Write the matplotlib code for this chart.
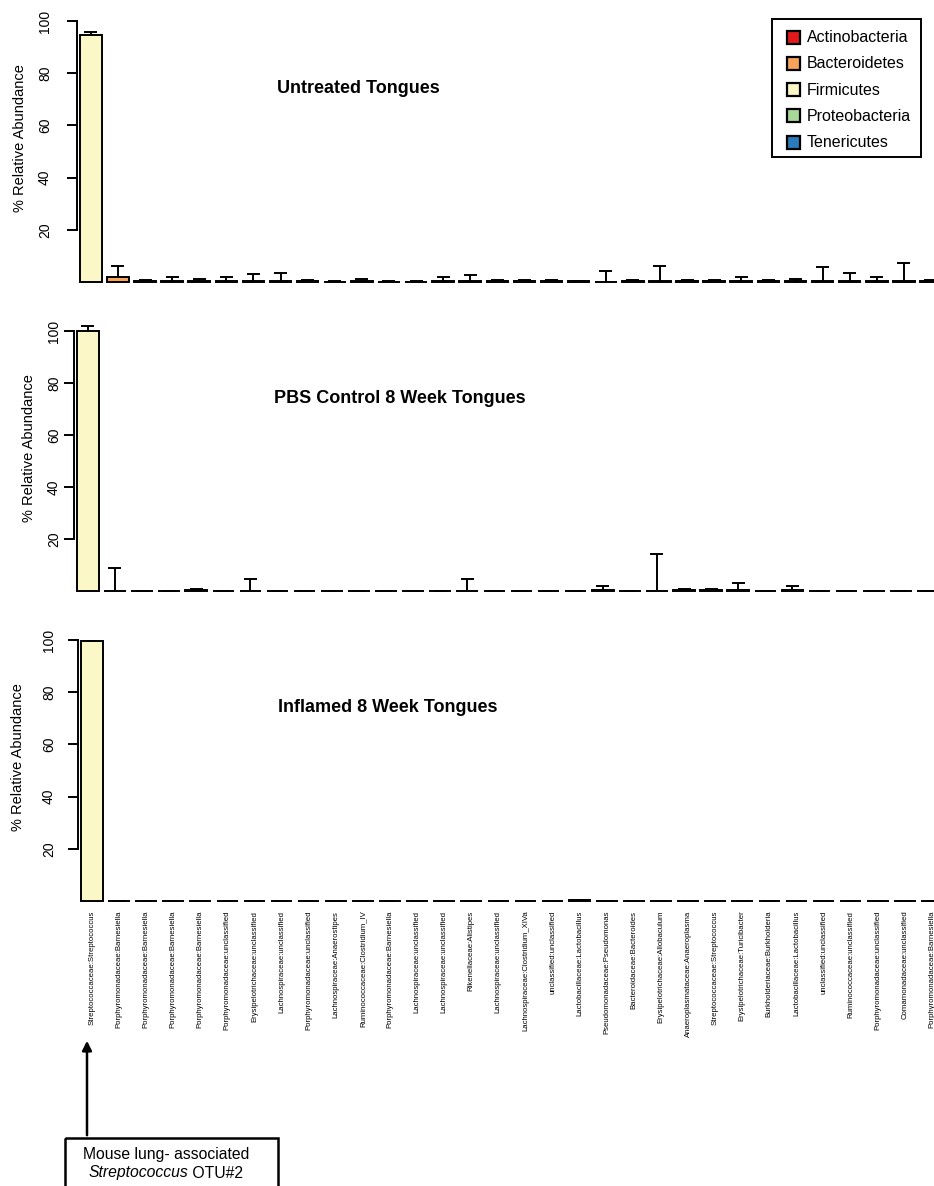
# -*- coding: utf-8 -*-
import numpy as np
import matplotlib
matplotlib.use('Agg')
import matplotlib.pyplot as plt
from matplotlib.patches import Rectangle

plt.rcParams['font.family'] = ['Liberation Sans', 'DejaVu Sans']

# OTU labels (family:genus)
otus = ['Streptococcaceae:Streptococcus', 'Porphyromonadaceae:Barnesiella',
        'Porphyromonadaceae:Barnesiella', 'Porphyromonadaceae:Barnesiella',
        'Porphyromonadaceae:Barnesiella', 'Porphyromonadaceae:unclassified',
        'Erysipelotrichaceae:unclassified', 'Lachnospiraceae:unclassified',
        'Porphyromonadaceae:unclassified', 'Lachnospiraceae:Anaerostipes',
        'Ruminococcaceae:Clostridium_IV', 'Porphyromonadaceae:Barnesiella',
        'Lachnospiraceae:unclassified', 'Lachnospiraceae:unclassified',
        'Rikenellaceae:Alistipes', 'Lachnospiraceae:unclassified',
        'Lachnospiraceae:Clostridium_XIVa', 'unclassified:unclassified',
        'Lactobacillaceae:Lactobacillus', 'Pseudomonadaceae:Pseudomonas',
        'Bacteroidaceae:Bacteroides', 'Erysipelotrichaceae:Allobaculum',
        'Anaeroplasmataceae:Anaeroplasma', 'Streptococcaceae:Streptococcus',
        'Erysipelotrichaceae:Turicibacter', 'Burkholderiaceae:Burkholderia',
        'Lactobacillaceae:Lactobacillus', 'unclassified:unclassified',
        'Ruminococcaceae:unclassified', 'Porphyromonadaceae:unclassified',
        'Comamonadaceae:unclassified', 'Porphyromonadaceae:Barnesiella']

# phylum of each OTU
phylum = ['Firmicutes', 'Bacteroidetes', 'Bacteroidetes', 'Bacteroidetes',
          'Bacteroidetes', 'Bacteroidetes', 'Firmicutes', 'Firmicutes',
          'Bacteroidetes', 'Firmicutes', 'Firmicutes', 'Bacteroidetes',
          'Firmicutes', 'Firmicutes', 'Bacteroidetes', 'Firmicutes',
          'Firmicutes', 'Actinobacteria', 'Firmicutes', 'Proteobacteria',
          'Bacteroidetes', 'Firmicutes', 'Tenericutes', 'Firmicutes',
          'Firmicutes', 'Proteobacteria', 'Firmicutes', 'Actinobacteria',
          'Firmicutes', 'Bacteroidetes', 'Proteobacteria', 'Bacteroidetes']

phyla = ['Actinobacteria', 'Bacteroidetes', 'Firmicutes', 'Proteobacteria', 'Tenericutes']
phyla_colors = ['#E31A1C', '#F9A45B', '#FBF7C6', '#A8D89A', '#2B7BBA']

# % relative abundance (mean) and upper error
untreated_mean = [94.8, 2.0, 0.3, 0.4, 0.4, 0.4, 0.4, 0.5, 0.3, 0.1, 0.4, 0.1, 0.1, 0.4, 0.4, 0.3,
                  0.4, 0.5, 0.3, 0.1, 0.4, 0.3, 0.4, 0.3, 0.4, 0.4, 0.5, 0.3, 0.3, 0.3, 0.3, 0.4]
untreated_err = [1.1, 4.1, 0.3, 1.6, 0.7, 1.4, 2.6, 2.8, 0.5, 0.1, 0.6, 0.1, 0.1, 1.4, 2.3, 0.4,
                 0.5, 0.1, 0.0, 4.2, 0.4, 5.8, 0.4, 0.3, 1.6, 0.4, 0.5, 5.4, 3.3, 1.5, 6.9, 0.4]

pbs_mean = [99.9, 0.05, 0.05, 0.05, 0.4, 0.05, 0.05, 0.05, 0.05, 0.05, 0.05, 0.05, 0.05, 0.05, 0.05, 0.05,
            0.05, 0.05, 0.05, 0.3, 0.05, 0.05, 0.4, 0.4, 0.2, 0.05, 0.3, 0.05, 0.05, 0.05, 0.05, 0.05]
pbs_err = [2.1, 8.9, 0, 0, 0.2, 0, 4.7, 0, 0, 0, 0, 0, 0, 0, 4.7, 0,
           0, 0, 0, 1.6, 0, 14.1, 0.3, 0.3, 2.8, 0, 1.5, 0, 0, 0, 0, 0]

inflamed_mean = [99.6, 0.05, 0.05, 0.05, 0.05, 0.05, 0.05, 0.05, 0.05, 0.05, 0.05, 0.05, 0.05, 0.05, 0.05, 0.05,
                 0.05, 0.05, 0.5, 0.05, 0.05, 0.05, 0.05, 0.05, 0.05, 0.05, 0.05, 0.05, 0.05, 0.05, 0.05, 0.05]
inflamed_err = [0.2] + [0] * 31

titles = ['Untreated Tongues', 'PBS Control 8 Week Tongues', 'Inflamed 8 Week Tongues']

W, H = 934, 1186
fig = plt.figure(figsize=(W / 100, H / 100), dpi=100)

# panel geometry in pixels: left spine x, y of 100, y of 0, tick pad, ylabel x
panels = [(77, 21, 282, 10.8, 20), (74, 331, 591, 2.2, 29), (78, 640, 901, 8.6, 18)]
means = [untreated_mean, pbs_mean, inflamed_mean]
errs = [untreated_err, pbs_err, inflamed_err]

x = np.arange(len(otus))
colors = [phyla_colors[phyla.index(p)] for p in phylum]
step = 27.1
axw = 857

for k, (left, top, bottom, pad, ylx) in enumerate(panels):
    ax = fig.add_axes([left / W, 1 - bottom / H, axw / W, (bottom - top) / H])
    ax.patch.set_visible(False)
    xl = -0.4 - 3 / step
    ax.set_xlim(xl, xl + axw / step)
    ax.set_ylim(0, 100)
    m = np.array(means[k])
    e = np.array(errs[k])
    bars = ax.bar(x, m, width=0.8, color=colors, edgecolor='black', linewidth=1.4)
    for b in bars:
        b.set_clip_on(False)
    ax.vlines(x, m, m + e, color='black', linewidth=1.4, clip_on=False)
    ax.hlines(m + e, x - 0.24, x + 0.24, color='black', linewidth=1.4, clip_on=False)
    for s in ['top', 'right', 'bottom']:
        ax.spines[s].set_visible(False)
    ax.spines['left'].set_bounds(20, 100)
    ax.spines['left'].set_linewidth(1.4)
    ax.set_yticks([20, 40, 60, 80, 100])
    ax.tick_params(axis='y', length=7.2, width=1.4, pad=pad, labelsize=10)
    for t in ax.get_yticklabels():
        t.set_rotation(90)
        t.set_va('center')
    if k < 2:
        ax.set_xticks([])
    else:
        ax.set_xticks(x)
        ax.set_xticklabels(otus, rotation=90, fontsize=5.6, va='top', ha='center')
        ax.tick_params(axis='x', length=0, pad=7)
    ax.text(6.87, 74, titles[k], fontsize=13, fontweight='bold', ha='left', va='center')
    fig.text(ylx / W, 1 - (top + 0.45 * (bottom - top)) / H, '% Relative Abundance',
             rotation=90, ha='center', va='center', fontsize=10.5)

# overlay in pixel coordinates for legend and annotation
ov = fig.add_axes([0, 0, 1, 1])
ov.set_xlim(0, W)
ov.set_ylim(H, 0)
ov.axis('off')

ov.add_patch(Rectangle((772, 19), 149, 138, fill=False, edgecolor='black', linewidth=1.4))
for i, (p, c) in enumerate(zip(phyla, phyla_colors)):
    yy = 37.5 + 26.3 * i
    ov.add_patch(Rectangle((787, yy - 7), 13, 13, facecolor=c, edgecolor='black', linewidth=1.6))
    ov.text(807, yy, p, fontsize=11.5, ha='left', va='center')

ov.annotate('', xy=(87, 1038), xytext=(87, 1138),
            arrowprops=dict(arrowstyle='-|>', color='black', lw=1.8, mutation_scale=14))
ov.add_patch(Rectangle((65, 1138), 213, 60, fill=False, edgecolor='black', linewidth=1.8, clip_on=False))
ov.text(166, 1154, 'Mouse lung- associated', fontsize=11.3, ha='center', va='center')

# second line: italic genus followed by plain OTU id
fig.canvas.draw()
r = fig.canvas.get_renderer()
t1 = ov.text(0, 1173, 'Streptococcus', fontsize=11.3, style='italic', ha='left', va='center')
t2 = ov.text(0, 1173, ' OTU#2', fontsize=11.3, ha='left', va='center')
w1 = t1.get_window_extent(r).width
w2 = t2.get_window_extent(r).width
x0 = 166 - (w1 + w2) / 2
t1.set_x(x0)
t2.set_x(x0 + w1)

fig.savefig('out.png', dpi=100)
